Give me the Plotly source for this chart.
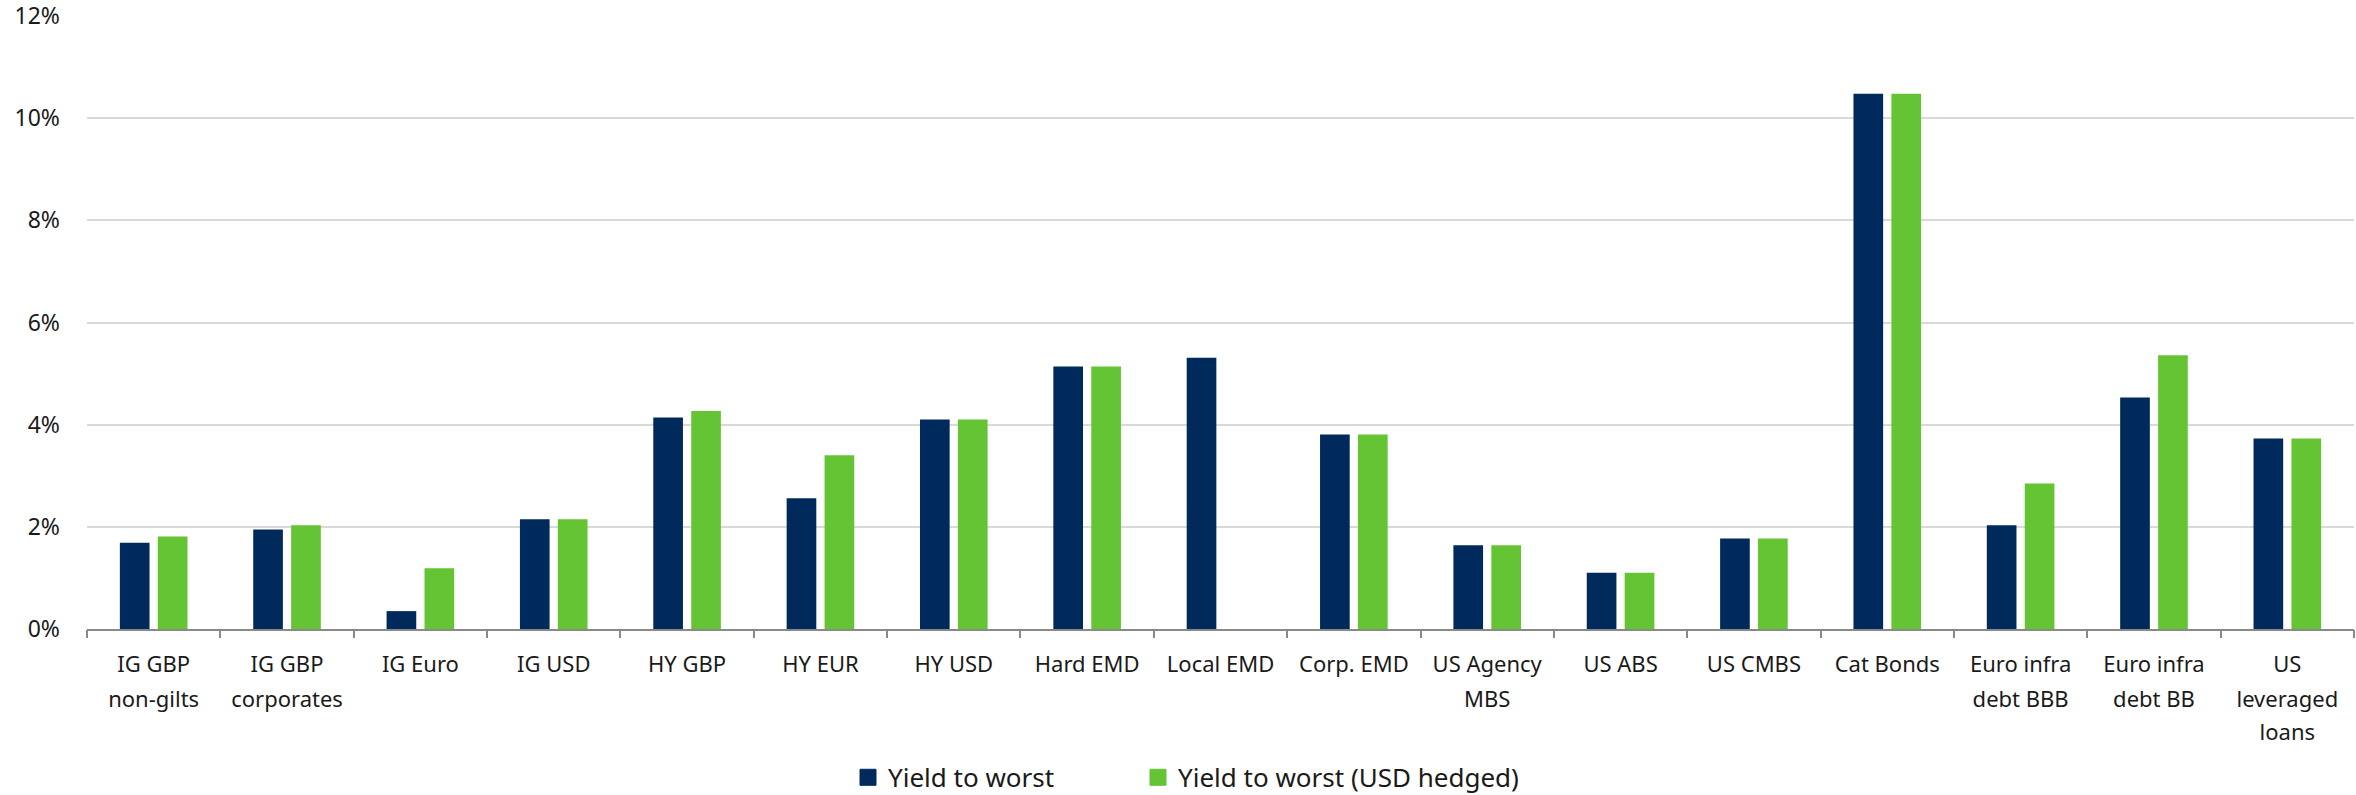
import plotly.graph_objects as go

categories = [
    "IG GBP<br>non-gilts", "IG GBP<br>corporates", "IG Euro", "IG USD", "HY GBP",
    "HY EUR", "HY USD", "Hard EMD", "Local EMD", "Corp. EMD", "US Agency<br>MBS",
    "US ABS", "US CMBS", "Cat Bonds", "Euro infra<br>debt BBB", "Euro infra<br>debt BB",
    "US<br>leveraged<br>loans",
]
yield_to_worst = [1.69, 1.95, 0.35, 2.15, 4.14, 2.56, 4.10, 5.14, 5.31, 3.81,
                  1.64, 1.10, 1.77, 10.48, 2.03, 4.53, 3.73]
yield_to_worst_usd_hedged = [1.81, 2.03, 1.19, 2.15, 4.27, 3.40, 4.10, 5.14, None, 3.81,
                             1.64, 1.10, 1.77, 10.48, 2.85, 5.36, 3.73]
series_names = ["Yield to worst", "Yield to worst (USD hedged)"]
y_tick_values = [0, 2, 4, 6, 8, 10, 12]
y_tick_labels = ["0%", "2%", "4%", "6%", "8%", "10%", "12%"]

NAVY = "#002a5c"
GREEN = "#64c433"
FONT = "Noto Sans"
TEXT = "#1a1a1a"

W, H = 2356, 795
ML, MR, MT, MB = 87, 2, 16, 165.5

# split category labels into separate lines (each line drawn on its own axis)
lines = [c.split("<br>") for c in categories]
n_lines = max(len(l) for l in lines)
line_text = [[(l[k] if k < len(l) else "") for l in lines] for k in range(n_lines)]
idx = list(range(len(categories)))

fig = go.Figure()
colors = [NAVY, GREEN]
for name, vals, col, lg in zip(series_names, [yield_to_worst, yield_to_worst_usd_hedged],
                               colors, ["legend", "legend2"]):
    fig.add_trace(go.Bar(x=idx, y=vals, name=name, showlegend=False,
                         marker=dict(color=col, line=dict(width=0))))
    fig.add_trace(go.Scatter(x=[None], y=[None], mode="markers", name=name,
                             legend=lg, showlegend=True,
                             marker=dict(symbol="square", size=16, color=col,
                                         line=dict(color=col, width=1))))

plot_h = H - MT - MB
plot_w = W - ML - MR
leg_y = (H - MB - 778) / plot_h
leg_font = dict(size=26, family=FONT, color=TEXT)
lab_font = dict(size=22, family=FONT, color=TEXT)
xrange_ = [-0.5, len(categories) - 0.5]

fig.update_layout(
    width=W, height=H,
    margin=dict(l=ML, r=MR, t=MT, b=MB, autoexpand=False),
    paper_bgcolor="white", plot_bgcolor="white",
    barmode="group", bargap=0.431, bargroupgap=0.218,
    font=dict(family=FONT, color=TEXT),
    legend=dict(orientation="h", x=(848 - ML) / plot_w, xanchor="left",
                y=leg_y, yanchor="middle", font=leg_font, bgcolor="rgba(0,0,0,0)"),
    legend2=dict(orientation="h", x=(1138 - ML) / plot_w, xanchor="left",
                 y=leg_y, yanchor="middle", font=leg_font, bgcolor="rgba(0,0,0,0)"),
    xaxis=dict(
        type="linear", range=xrange_,
        tickmode="array", tickvals=idx, ticktext=line_text[0], tickfont=lab_font,
        showline=True, linecolor="#898989", linewidth=1.6,
        showgrid=False, zeroline=False, ticks="", ticklabelstandoff=15,
    ),
    xaxis2=dict(
        type="linear", range=xrange_, overlaying="x", anchor="y", side="bottom",
        tickmode="array", tickvals=idx, ticktext=line_text[1], tickfont=lab_font,
        showline=False, showgrid=False, zeroline=False, ticks="", ticklabelstandoff=55,
    ),
    xaxis3=dict(
        type="linear", range=xrange_, overlaying="x", anchor="y", side="bottom",
        tickmode="array", tickvals=idx, ticktext=line_text[2], tickfont=lab_font,
        showline=False, showgrid=False, zeroline=False, ticks="", ticklabelstandoff=88,
    ),
    xaxis4=dict(
        type="linear", range=xrange_, overlaying="x", anchor="y", side="bottom",
        tickmode="array", tickvals=[i + 0.5 for i in [-1] + idx],
        ticktext=[""] * (len(categories) + 1),
        showline=False, showgrid=False, zeroline=False,
        ticks="outside", ticklen=8, tickcolor="#898989", tickwidth=1.6,
    ),
    yaxis=dict(
        range=[0, 12.001], tickmode="array", tickvals=y_tick_values, ticktext=y_tick_labels,
        tickfont=dict(size=23, family=FONT, color=TEXT), ticklabeloverflow="allow",
        showgrid=True, gridcolor="#d9d9d9", gridwidth=1.5,
        zeroline=False, showline=False, ticks="", ticklabelstandoff=26,
    ),
)
# invisible traces so the overlay axes are drawn
for ax in ["x2", "x3", "x4"]:
    fig.add_trace(go.Scatter(x=[None], y=[None], xaxis=ax, yaxis="y", showlegend=False,
                             hoverinfo="skip"))

fig.write_html("out.html", config={"displayModeBar": False},
               post_script="document.body.style.margin='0';")
